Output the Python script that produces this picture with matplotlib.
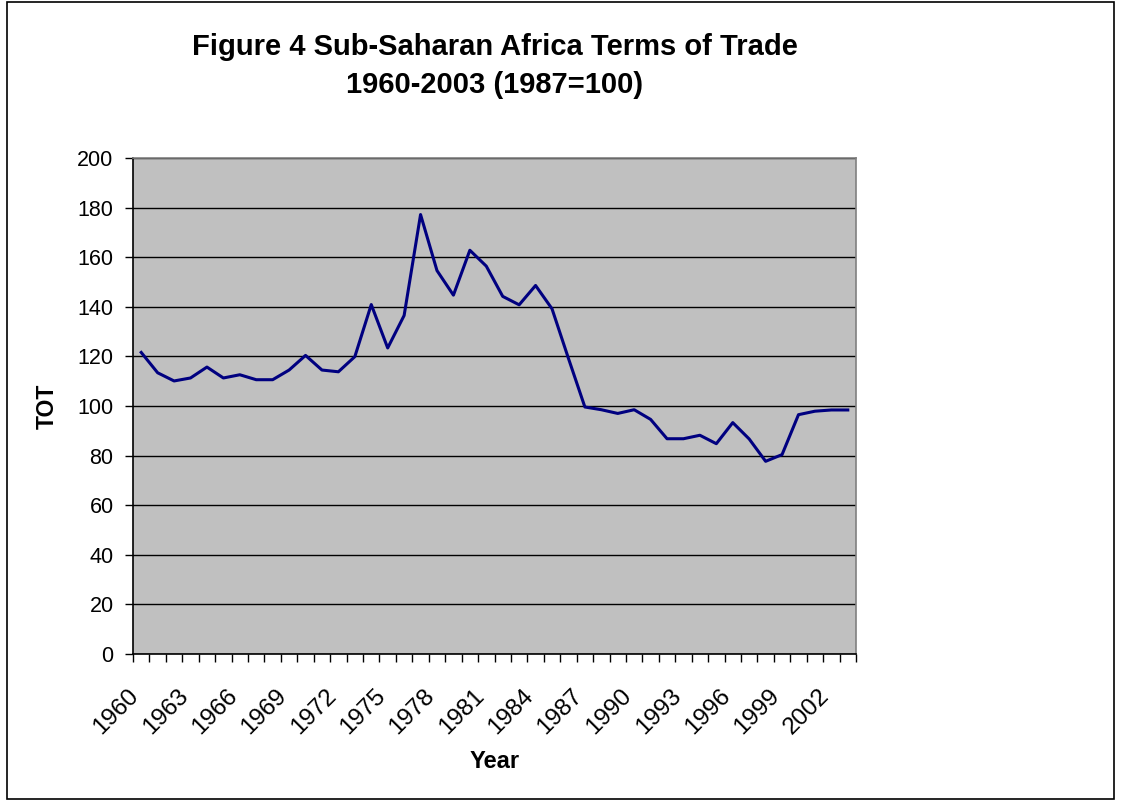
import numpy as np
import matplotlib
matplotlib.use("Agg")
import matplotlib.pyplot as plt
from matplotlib.patches import Rectangle

# Terms of trade index, 1987 = 100
years = list(range(1960, 2004))
tot = [121.6, 113.4, 110.1, 111.3, 115.7, 111.3, 112.6, 110.6, 110.6, 114.5,
       120.4, 114.5, 113.8, 119.9, 140.9, 123.4, 136.5, 177.2, 154.6, 144.7,
       162.8, 156.4, 144.2, 140.8, 148.6, 139.2, 119.2, 99.6, 98.5, 97.0,
       98.5, 94.6, 86.8, 86.8, 88.2, 84.8, 93.3, 86.7, 77.7, 80.4,
       96.5, 97.9, 98.4, 98.4]
y_ticks = list(range(0, 201, 20))
label_every = 3

plt.rcParams["font.family"] = ["Liberation Sans", "DejaVu Sans"]

W, H = 1123, 801
fig = plt.figure(figsize=(W / 100, H / 100), dpi=100)
# plot area in pixel terms: x 133..856, y 158..654
ax = fig.add_axes([133 / W, 1 - 654 / H, 723 / W, 496 / H])
ax.set_facecolor("#C0C0C0")

x = np.arange(len(years))
ax.plot(x, tot, color="#000080", lw=2.2, zorder=3)

ax.set_xlim(-0.5, len(years) - 0.5)
ax.set_ylim(0, 200)
ax.set_yticks(y_ticks)
ax.set_yticklabels([str(v) for v in y_ticks], fontsize=15.5)
ax.yaxis.grid(True, color="black", lw=1.0)
ax.set_axisbelow(True)

# category ticks sit on boundaries; rotated labels end just left of
# the category centre, as Excel draws them
ax.set_xticks(np.arange(-0.5, len(years)), minor=True)
lab_pos = x[::label_every]
ax.set_xticks(lab_pos - 0.35)
ax.set_xticklabels([str(years[i]) for i in lab_pos], rotation=45,
                   ha="right", va="center", rotation_mode="anchor",
                   fontsize=17.5)
ax.tick_params(axis="x", which="major", length=0, pad=28)
ax.tick_params(axis="x", which="minor", length=6, width=1, direction="out")
ax.tick_params(axis="y", length=6, width=1, direction="out", pad=8)

for side in ("left", "bottom"):
    ax.spines[side].set_color("black")
    ax.spines[side].set_linewidth(1.2)
for side in ("top", "right"):
    ax.spines[side].set_color("#808080")
    ax.spines[side].set_linewidth(1.2)

ax.set_xlabel("Year", fontsize=17, fontweight="bold", va="center")
ax.xaxis.set_label_coords(0.5, (654 - 761) / 496)
ax.set_ylabel("TOT", fontsize=16.5, fontweight="bold", va="center")
ax.yaxis.set_label_coords((47 - 133) / 723, 0.5)

cx = 0.5 * (133 + 856) / W
fig.text(cx, 1 - 47 / H, "Figure 4 Sub-Saharan Africa Terms of Trade",
         ha="center", va="center", fontsize=21, fontweight="bold")
fig.text(cx, 1 - 85 / H, "1960-2003 (1987=100)",
         ha="center", va="center", fontsize=21, fontweight="bold")

fig.add_artist(Rectangle((7 / W, 2 / H), 1107 / W, 797 / H,
                         transform=fig.transFigure, fill=False,
                         edgecolor="black", lw=1.2))

fig.savefig("out.png", dpi=100)
